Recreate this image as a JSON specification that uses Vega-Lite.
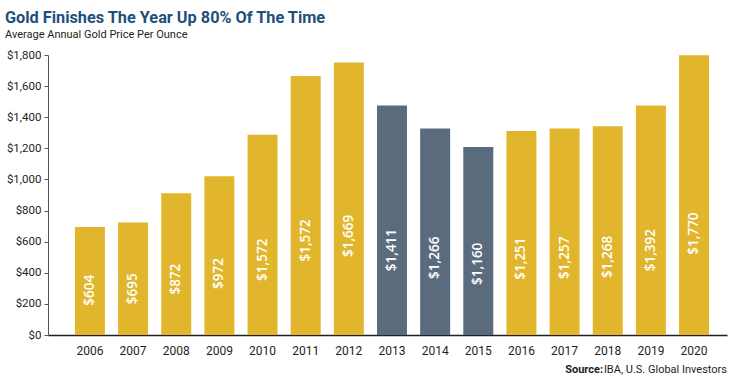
{
  "$schema": "https://vega.github.io/schema/vega-lite/v6.json",
  "autosize": "none",
  "width": 679,
  "height": 280,
  "padding": {"left": 48, "top": 55, "right": 8, "bottom": 45},
  "background": "white",
  "title": {
    "text": "Gold Finishes The Year Up 80% Of The Time",
    "subtitle": "Average Annual Gold Price Per Ounce",
    "anchor": "start",
    "frame": "group",
    "dx": -43,
    "offset": 9,
    "font": "Roboto",
    "fontSize": 16.3,
    "fontWeight": "bold",
    "color": "#1D4F7C",
    "subtitleFont": "Roboto",
    "subtitleFontSize": 11,
    "subtitleColor": "#231F20",
    "subtitlePadding": 3
  },
  "data": {
    "values": [
      {"year": "2006", "value": 694, "label": "$604", "trend": "up"},
      {"year": "2007", "value": 724, "label": "$695", "trend": "up"},
      {"year": "2008", "value": 911, "label": "$872", "trend": "up"},
      {"year": "2009", "value": 1020, "label": "$972", "trend": "up"},
      {"year": "2010", "value": 1288, "label": "$1,572", "trend": "up"},
      {"year": "2011", "value": 1665, "label": "$1,572", "trend": "up"},
      {"year": "2012", "value": 1752, "label": "$1,669", "trend": "up"},
      {"year": "2013", "value": 1476, "label": "$1,411", "trend": "down"},
      {"year": "2014", "value": 1327, "label": "$1,266", "trend": "down"},
      {"year": "2015", "value": 1209, "label": "$1,160", "trend": "down"},
      {"year": "2016", "value": 1311, "label": "$1,251", "trend": "up"},
      {"year": "2017", "value": 1327, "label": "$1,257", "trend": "up"},
      {"year": "2018", "value": 1342, "label": "$1,268", "trend": "up"},
      {"year": "2019", "value": 1475, "label": "$1,392", "trend": "up"},
      {"year": "2020", "value": 1798, "label": "$1,770", "trend": "up"}
    ]
  },
  "encoding": {
    "x": {
      "field": "year",
      "type": "nominal",
      "scale": {"paddingInner": 0.305, "paddingOuter": 0.52, "align": 0.6},
      "axis": {
        "title": null,
        "labelAngle": 0,
        "ticks": false,
        "domainColor": "#231F20",
        "domainWidth": 1.5,
        "labelFont": "Roboto",
        "labelFontSize": 12,
        "labelColor": "#231F20",
        "labelPadding": 10
      }
    }
  },
  "layer": [
    {
      "mark": {"type": "bar"},
      "encoding": {
        "y": {
          "field": "value",
          "type": "quantitative",
          "scale": {"domain": [0, 1800], "nice": false},
          "axis": {
            "title": null,
            "values": [0, 200, 400, 600, 800, 1000, 1200, 1400, 1600, 1800],
            "labelExpr": "'$' + format(datum.value, ',')",
            "grid": false,
            "ticks": true,
            "tickSize": 4,
            "tickColor": "#555555",
            "domainColor": "#555555",
            "labelFont": "Roboto",
            "labelFontSize": 11.5,
            "labelColor": "#231F20",
            "labelPadding": 3
          }
        },
        "color": {
          "field": "trend",
          "type": "nominal",
          "scale": {"domain": ["up", "down"], "range": ["#E2B62C", "#5A6B7D"]},
          "legend": null
        }
      }
    },
    {
      "mark": {
        "type": "text",
        "angle": 270,
        "align": "center",
        "baseline": "middle",
        "color": "white",
        "font": "Open Sans",
        "fontWeight": 600,
        "fontSize": 13.5
      },
      "encoding": {
        "y": {
          "field": "value",
          "type": "quantitative",
          "scale": {"domain": [-177, 5274], "nice": false, "zero": false},
          "axis": null
        },
        "text": {"field": "label"}
      }
    },
    {
      "data": {"values": [{"src": "Source:", "rest": "IBA, U.S. Global Investors"}]},
      "layer": [
        {
          "mark": {"type": "text", "align": "right", "baseline": "alphabetic", "font": "Roboto", "fontSize": 11, "color": "#231F20", "dy": 38},
          "encoding": {"x": {"value": "width"}, "y": {"value": "height"}, "text": {"field": "rest"}}
        },
        {
          "mark": {"type": "text", "align": "right", "baseline": "alphabetic", "font": "Roboto", "fontWeight": "bold", "fontSize": 11, "color": "#231F20", "dy": 38, "dx": -124},
          "encoding": {"x": {"value": "width"}, "y": {"value": "height"}, "text": {"field": "src"}}
        }
      ]
    }
  ],
  "resolve": {"scale": {"y": "independent"}},
  "config": {"view": {"stroke": null}}
}
